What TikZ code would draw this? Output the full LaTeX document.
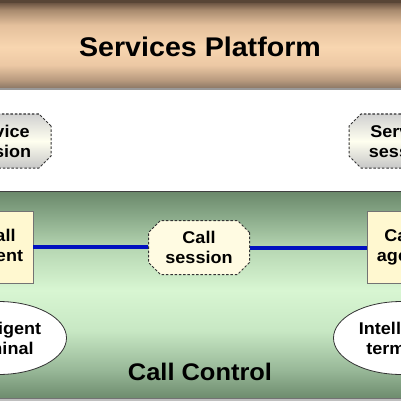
\documentclass[tikz,border=0pt]{standalone}
\usepackage{fontspec}
\setmainfont{Liberation Sans}[FakeStretch=1.06]
\usetikzlibrary{shapes.misc,shapes.geometric}
\definecolor{b0}{HTML}{8C7866}
\definecolor{b1}{HTML}{B89A7E}
\definecolor{b2}{HTML}{ECC8A4}
\definecolor{b3}{HTML}{F8D6B0}
\definecolor{b4}{HTML}{E4C09C}
\definecolor{b5}{HTML}{A88A6E}
\definecolor{b6}{HTML}{6E5644}
\definecolor{g0}{HTML}{6E8C6E}
\definecolor{g1}{HTML}{98B898}
\definecolor{g2}{HTML}{C8E8C4}
\definecolor{g3}{HTML}{D8F6D2}
\definecolor{g4}{HTML}{B8D8B4}
\definecolor{g5}{HTML}{88A888}
\definecolor{g6}{HTML}{6A886A}
\definecolor{agentfill}{HTML}{FFF8D0}
\definecolor{sessfill}{HTML}{FFFBE2}
\definecolor{linkblue}{HTML}{0010C0}
\pgfdeclareverticalshading{bandshade}{100bp}{color(0bp)=(b0); color(25bp)=(b0); color(29.7bp)=(b1); color(38.5bp)=(b2); color(49.1bp)=(b3); color(62.1bp)=(b4); color(70.9bp)=(b5); color(75bp)=(b6); color(100bp)=(b6)}
\pgfdeclareverticalshading{greenshade}{100bp}{color(0bp)=(g0); color(25bp)=(g0); color(31.8bp)=(g1); color(41.4bp)=(g2); color(51.1bp)=(g3); color(60.7bp)=(g4); color(69.2bp)=(g5); color(75bp)=(g6); color(100bp)=(g6)}
\tikzset{
  boxtext/.style={font=\fontsize{17}{20}\selectfont\bfseries, align=center, text=black},
  agentbox/.style={boxtext, rectangle, draw=black!55, line width=0.9pt, fill=agentfill, minimum width=68pt, minimum height=72pt, inner sep=0pt},
  sessbox/.style={boxtext, chamfered rectangle, chamfered rectangle xsep=6pt, chamfered rectangle ysep=6pt, draw=black!80, dash pattern=on 2.5pt off 1.8pt, line width=1pt, inner sep=0pt},
  termbox/.style={boxtext, ellipse, draw=black!80, line width=0.8pt, fill=white, minimum width=136pt, minimum height=73pt, inner sep=0pt},
  link/.style={draw=linkblue, line width=4pt},
  bigtitle/.style={font=\fontsize{27}{30}\selectfont\bfseries, text=black, inner sep=0pt},
}
\begin{document}
\begin{tikzpicture}[x=1pt,y=-1pt]
\useasboundingbox (0,0) rectangle (401,401);
\clip (0,0) rectangle (401,401);
\fill[white] (0,0) rectangle (401,401);
% services platform band
\shade[shading=bandshade] (-2,3) rectangle (403,88);
\fill[b6!80!black] (-2,0) rectangle (403,3);
\fill[black!40] (-2,88) rectangle (403,90);
\node[bigtitle, anchor=base] (sp) at (200,57) {Services Platform};
% service sessions
\node[sessbox, shade, top color=black!18!white, bottom color=black!22!white, middle color=yellow!6!white, minimum width=107pt, minimum height=54pt] (ssl) at (-2.5,141) {Service\\session};
\node[sessbox, shade, top color=black!18!white, bottom color=black!22!white, middle color=yellow!6!white, minimum width=107pt, minimum height=54pt] (ssr) at (402.5,141) {Service\\session};
% call control band
\shade[shading=greenshade] (-2,191) rectangle (403,398);
\draw[black!75, line width=1pt] (-2,191) -- (403,191);
\fill[black!25!white] (-2,398) rectangle (403,401);
\draw[black!55, line width=0.6pt] (-2,398) -- (403,398);
% call agents and session
\node[agentbox] (cal) at (-1,247) {Call\\agent};
\node[agentbox] (car) at (401,247) {Call\\agent};
\node[sessbox, fill=sessfill, minimum width=101pt, minimum height=54pt] (cs) at (199,247.5) {Call\\session};
\draw[link] (cal.east) -- (cal.east -| cs.west);
\draw[link] (cs.east) -- (cs.east -| car.west);
% terminals
\node[termbox] (itl) at (-1.5,338) {Intelligent\\terminal};
\node[termbox] (itr) at (401.5,338) {Intelligent\\terminal};
\node[font=\fontsize{24}{28}\selectfont\bfseries, anchor=base, inner sep=0pt] (cc) at (200,380) {Call Control};
\end{tikzpicture}
\end{document}
